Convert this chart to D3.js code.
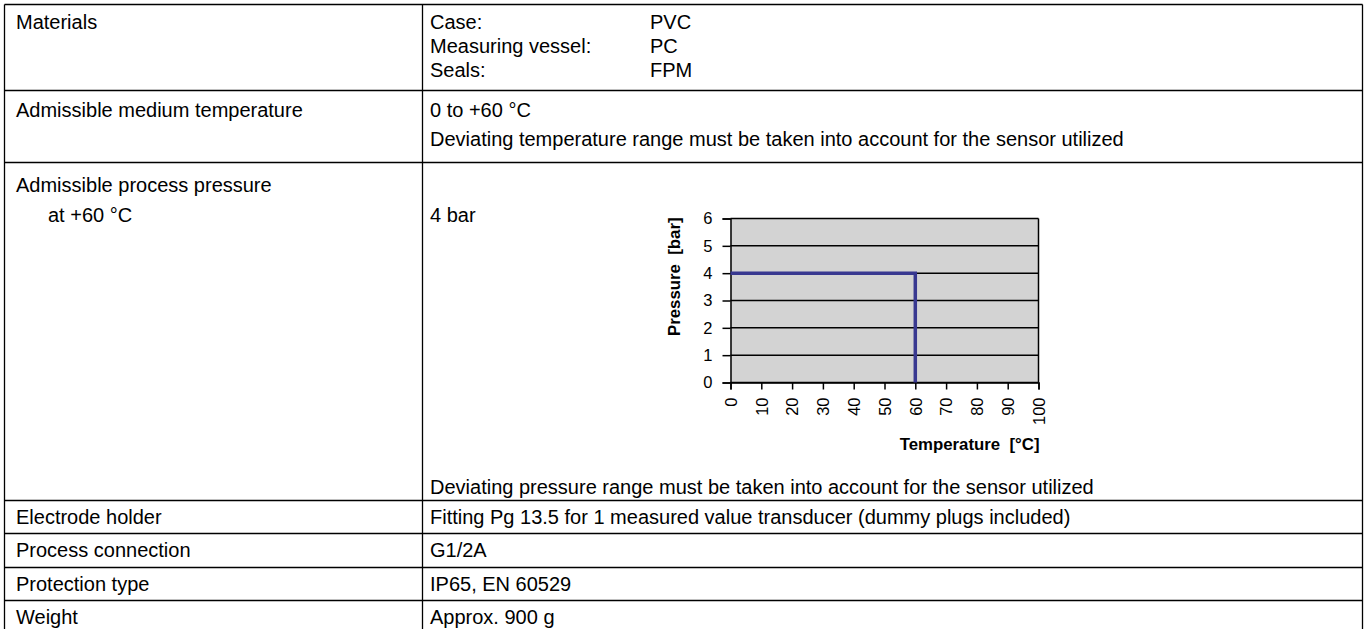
<!DOCTYPE html>
<html><head><meta charset="utf-8">
<script src="https://cdn.jsdelivr.net/npm/d3@7"></script>
<style>html,body{margin:0;padding:0;background:#fff;}svg{display:block;font-family:"Liberation Sans",Arial,sans-serif;}text{white-space:pre;}</style>
</head><body><svg id="c" width="1372" height="629"></svg>
<script>
// ---- data ----
const rowLabels = ["Materials","Admissible medium temperature","Admissible process pressure","Electrode holder","Process connection","Protection type","Weight"];
const materialKeys = ["Case:","Measuring vessel:","Seals:"];
const materialVals = ["PVC","PC","FPM"];
const tempTexts = ["0 to +60 °C","Deviating temperature range must be taken into account for the sensor utilized"];
const pressureSub = ["at +60 °C","4 bar"];
const pressureNote = "Deviating pressure range must be taken into account for the sensor utilized";
const simpleVals = ["Fitting Pg 13.5 for 1 measured value transducer (dummy plugs included)","G1/2A","IP65, EN 60529","Approx. 900 g"];
const xTicks = [0,10,20,30,40,50,60,70,80,90,100];
const yTicks = [0,1,2,3,4,5,6];
const curveT = [0,60,60];
const curveP = [4,4,0];
const xTitle = "Temperature  [°C]";
const yTitle = "Pressure  [bar]";

const svg = d3.select("#c");
const L = 4.5, C = 422.5, R = 1362.5;
const lines = [4.5, 90.5, 162.5, 500.5, 533.5, 567.5, 600.5, 634];
const FS = 20;
const tbl = svg.append("g");
lines.forEach(y => tbl.append("line").attr("x1",L).attr("x2",R).attr("y1",y).attr("y2",y).attr("stroke","#000").attr("stroke-width",1.3));
[L,C,R].forEach(x => tbl.append("line").attr("x1",x).attr("x2",x).attr("y1",lines[0]).attr("y2",lines[lines.length-1]).attr("stroke","#000").attr("stroke-width",1.3));

function txt(x,y,s,opts={}){
  return tbl.append("text").attr("x",x).attr("y",y).attr("dy","0.35em")
    .attr("font-size",opts.fs||FS).attr("fill","#000").attr("font-weight",opts.fw||"normal").text(s);
}
const lx = 16, vx = 430, vx2 = 650;
txt(lx,22,rowLabels[0]);
materialKeys.forEach((k,i)=>{ txt(vx,22+i*24,k); txt(vx2,22+i*24,materialVals[i]); });
txt(lx,110,rowLabels[1]);
txt(vx,110,tempTexts[0]);
txt(vx,139,tempTexts[1]);
txt(lx,185,rowLabels[2]);
txt(48,215,pressureSub[0]);
txt(vx,215,pressureSub[1]);
txt(vx,487,pressureNote);
const simpleY = [517,550,584,617];
rowLabels.slice(3).forEach((r,i)=>{ txt(lx,simpleY[i],r); txt(vx,simpleY[i],simpleVals[i]); });

// ---- chart ----
const x = d3.scaleLinear().domain([0,100]).range([730.5,1038.5]);
const y = d3.scaleLinear().domain([0,6]).range([382.5,218.5]);
const ch = svg.append("g");
ch.append("rect").attr("x",x(0)).attr("y",y(6)).attr("width",x(100)-x(0)).attr("height",y(0)-y(6)).attr("fill","#d3d3d3");
ch.selectAll("line.grid").data(yTicks).join("line").attr("class","grid")
  .attr("x1",x(0)).attr("x2",x(100)).attr("y1",d=>y(d)).attr("y2",d=>y(d)).attr("stroke","#000").attr("stroke-width",1.5);
ch.append("line").attr("x1",x(100)).attr("x2",x(100)).attr("y1",y(6)).attr("y2",y(0)).attr("stroke","#000").attr("stroke-width",1.5);

const yAxis = d3.axisLeft(y).tickValues(yTicks).tickSize(8).tickPadding(10).tickFormat(d3.format("d"));
const ga = ch.append("g").attr("transform",`translate(${x(0)},0)`).call(yAxis);
ga.select(".domain").attr("stroke","#000").attr("stroke-width",1.5);
ga.selectAll(".tick line").attr("stroke","#000").attr("stroke-width",1.5);
ga.selectAll(".tick text").attr("font-size",16.5).attr("font-family","Liberation Sans, Arial, sans-serif").attr("fill","#000");

const xAxis = d3.axisBottom(x).tickValues(xTicks).tickSize(7).tickFormat(d3.format("d"));
const gx = ch.append("g").attr("transform",`translate(0,${y(0)})`).call(xAxis);
gx.select(".domain").attr("stroke","#000").attr("stroke-width",1.5);
gx.selectAll(".tick line").attr("stroke","#000").attr("stroke-width",1.5);
gx.selectAll(".tick text").attr("font-size",16.5).attr("font-family","Liberation Sans, Arial, sans-serif").attr("fill","#000")
  .attr("transform","rotate(-90)").attr("text-anchor","end").attr("x",-15).attr("y",0).attr("dy","0.35em");

const lineGen = d3.line().x(d=>x(d[0])).y(d=>y(d[1]));
ch.append("path").datum(curveT.map((t,i)=>[t,curveP[i]])).attr("d",lineGen)
  .attr("fill","none").attr("stroke","#383890").attr("stroke-width",3.5);

ch.append("text").attr("x",x(100)+1).attr("y",450).attr("text-anchor","end").attr("font-size",16.8).attr("font-weight","bold").text(xTitle);
ch.append("text").attr("transform",`translate(680,${y(6)-1}) rotate(-90)`).attr("text-anchor","end").attr("font-size",16.8).attr("font-weight","bold").text(yTitle);
</script></body></html>
